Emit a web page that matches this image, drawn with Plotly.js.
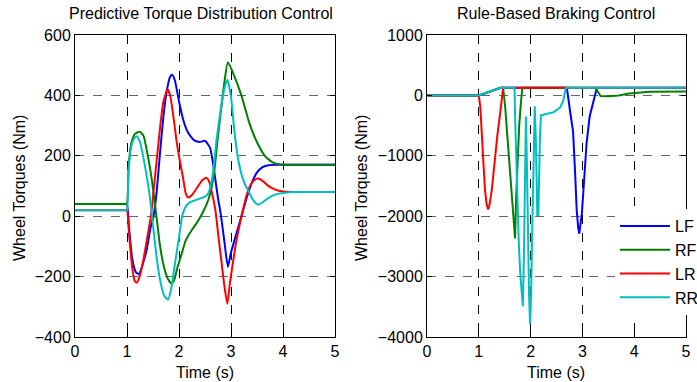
<!DOCTYPE html>
<html><head><meta charset="utf-8">
<script src="https://cdn.plot.ly/plotly-3.0.1.min.js"></script>
<style>html,body{margin:0;padding:0;background:#fff}</style>
</head><body><div id="chart" style="width:697px;height:382px"></div>
<script>
// ---------- Data ----------
const seriesNames = ['LF', 'RF', 'LR', 'RR'];
const seriesColors = ['#0000FF', '#008000', '#FF0000', '#00BFBF'];
const xTicks = [0, 1, 2, 3, 4, 5];
const yTicksLeft = [-400, -200, 0, 200, 400, 600];
const yTicksRight = [-4000, -3000, -2000, -1000, 0, 1000];

// Left panel: Predictive Torque Distribution Control
const tLF_p = [0,0.98,1.0,1.04,1.10,1.17,1.23,1.30,1.38,1.45,1.51,1.57,1.63,1.70,1.77,1.83,1.87,1.92,2.0,2.08,2.15,2.22,2.30,2.40,2.50,2.55,2.60,2.65,2.70,2.75,2.80,2.87,2.94,3.0,3.1,3.2,3.3,3.4,3.5,3.6,3.7,3.85,4.2,5.0];
const LF_p  = [40,40,40,-40,-140,-185,-192,-160,-110,-40,0,80,200,330,420,462,468,450,380,320,285,265,250,246,250,240,225,180,120,60,10,-80,-168,-120,-60,0,60,110,145,162,168,170,170,170];

const tRF_p = [0,0.98,1.0,1.03,1.08,1.15,1.25,1.32,1.40,1.47,1.53,1.58,1.63,1.70,1.78,1.85,1.90,1.97,2.05,2.13,2.25,2.35,2.45,2.56,2.62,2.68,2.74,2.80,2.87,2.94,3.04,3.2,3.35,3.5,3.65,3.8,3.95,4.2,5.0];
const RF_p  = [40,40,40,160,240,272,280,265,200,130,50,-20,-92,-160,-205,-222,-215,-170,-125,-80,-45,-20,10,52,90,150,250,340,440,510,474,400,310,245,200,178,171,170,170];

const tLR_p = [0,0.98,1.0,1.04,1.10,1.15,1.19,1.25,1.32,1.40,1.46,1.52,1.58,1.64,1.70,1.78,1.83,1.90,1.96,2.02,2.08,2.13,2.18,2.25,2.35,2.45,2.53,2.58,2.63,2.70,2.76,2.83,2.88,2.93,2.98,3.04,3.10,3.17,3.23,3.30,3.38,3.45,3.52,3.6,3.7,3.8,3.9,4.05,4.3,5.0];
const LR_p  = [20,20,20,-60,-170,-215,-220,-195,-140,-60,0,100,200,300,380,420,400,320,240,180,125,75,62,70,95,120,127,115,80,20,-70,-170,-240,-290,-220,-150,-85,-25,20,70,105,120,125,118,103,92,85,81,80,80];

const tRR_p = [0,0.98,1.0,1.03,1.08,1.14,1.19,1.25,1.32,1.39,1.44,1.50,1.57,1.64,1.72,1.79,1.85,1.92,2.0,2.06,2.12,2.2,2.3,2.4,2.5,2.56,2.62,2.66,2.72,2.8,2.87,2.93,3.0,3.06,3.13,3.2,3.27,3.33,3.42,3.52,3.6,3.7,3.8,3.9,4.05,4.2,4.5,5.0];
const RR_p  = [20,20,20,150,230,258,265,245,190,120,63,-30,-137,-215,-265,-276,-240,-160,-70,0,29,45,52,58,65,74,110,152,250,350,420,452,396,290,196,140,105,85,55,38,45,58,68,74,78,80,80,80];

// Right panel: Rule-Based Braking Control
const tLF_r = [0,1.0,1.42,2.70,2.76,2.82,2.86,2.89,2.92,2.94,2.96,2.99,3.02,3.08,3.14,3.21,3.28,5.0];
const LF_r  = [0,0,125,125,-250,-600,-1300,-1900,-2200,-2290,-2150,-1950,-1570,-800,-350,-90,125,125];

const tRF_r = [0,1.0,1.42,1.47,1.51,1.57,1.63,1.68,1.70,1.72,1.75,1.78,1.81,1.84,3.25,3.30,3.35,3.5,3.7,3.9,4.1,4.3,5.0];
const RF_r  = [0,0,125,125,-200,-860,-1515,-2175,-2370,-1700,-950,-500,-150,125,125,50,-10,-15,0,30,50,60,65];

const tLR_r = [0,1.0,1.03,1.06,1.09,1.12,1.15,1.18,1.21,1.25,1.31,1.36,1.41,1.47,5.0];
const LR_r  = [0,0,-200,-580,-1130,-1570,-1800,-1890,-1800,-1570,-1020,-650,-310,125,125];

const tRR_r = [0,1.0,1.42,1.69,1.70,1.72,1.74,1.77,1.80,1.83,1.85,1.87,1.89,1.91,1.93,1.95,1.97,1.99,2.01,2.03,2.05,2.07,2.08,2.10,2.12,2.13,2.15,2.16,2.18,2.20,2.31,2.44,2.57,2.63,2.68,5.0];
const RR_r  = [0,0,125,125,-330,-900,-1735,-2400,-2940,-3300,-3490,-2700,-1600,-350,-1200,-2400,-3300,-3790,-3300,-2300,-1200,-400,-180,-700,-1500,-1980,-1980,-1300,-700,-330,-310,-280,-200,-90,125,125];

// ---------- Traces ----------
const leftT = [tLF_p, tRF_p, tLR_p, tRR_p];
const leftV = [LF_p, RF_p, LR_p, RR_p];
const rightT = [tLF_r, tRF_r, tLR_r, tRR_r];
const rightV = [LF_r, RF_r, LR_r, RR_r];

const traces = [];
for (let i = 0; i < 4; i++) {
  traces.push({x: leftT[i], y: leftV[i], type: 'scatter', mode: 'lines', name: seriesNames[i],
    line: {color: seriesColors[i], width: 2, shape: 'spline', smoothing: 0.5}, xaxis: 'x', yaxis: 'y', showlegend: false});
}
for (let i = 0; i < 4; i++) {
  traces.push({x: rightT[i], y: rightV[i], type: 'scatter', mode: 'lines', name: seriesNames[i],
    line: {color: seriesColors[i], width: 2}, xaxis: 'x2', yaxis: 'y2', showlegend: true});
}

const FONT = 'Liberation Sans, Arial, Helvetica, sans-serif';
const W = 697, H = 382;
const common = {
  showline: true, linecolor: '#000', linewidth: 1, mirror: 'ticks',
  ticks: 'inside', ticklen: 5, tickcolor: '#000', tickwidth: 1,
  showgrid: true, griddash: 'dash', gridwidth: 1, zeroline: false,
  tickfont: {family: FONT, size: 16, color: '#000'}
};
const yDom = [1 - 337 / H, 1 - 35 / H];

const layout = {
  width: W, height: H,
  margin: {l: 0, r: 0, t: 0, b: 0, autoexpand: false},
  paper_bgcolor: '#fff', plot_bgcolor: '#fff',
  font: {family: FONT, size: 16, color: '#000'},
  xaxis: Object.assign({}, common, {domain: [75 / W, 335 / W], range: [0, 5], tickvals: xTicks, gridcolor: '#000', anchor: 'y'}),
  yaxis: Object.assign({}, common, {domain: yDom, range: [-400, 600], tickvals: yTicksLeft, gridcolor: '#666', anchor: 'x'}),
  xaxis2: Object.assign({}, common, {domain: [427 / W, 686 / W], range: [0, 5], tickvals: xTicks, gridcolor: '#000', anchor: 'y2'}),
  yaxis2: Object.assign({}, common, {domain: yDom, range: [-4000, 1000], tickvals: yTicksRight, gridcolor: '#666', anchor: 'x2'}),
  showlegend: true,
  legend: {x: 615 / W, y: 1 - 209 / H, xanchor: 'left', yanchor: 'top', bgcolor: '#fff', borderwidth: 0,
           font: {family: FONT, size: 16, color: '#000'}, itemwidth: 50},
  annotations: [
    {text: 'Predictive Torque Distribution Control', x: 201 / W, y: 1 - 13 / H, xref: 'paper', yref: 'paper', showarrow: false, xanchor: 'center', yanchor: 'middle', font: {family: FONT, size: 16}},
    {text: 'Rule-Based Braking Control', x: 556 / W, y: 1 - 13 / H, xref: 'paper', yref: 'paper', showarrow: false, xanchor: 'center', yanchor: 'middle', font: {family: FONT, size: 16}},
    {text: 'Time (s)', x: 205 / W, y: 1 - 372 / H, xref: 'paper', yref: 'paper', showarrow: false, xanchor: 'center', yanchor: 'middle', font: {family: FONT, size: 16}},
    {text: 'Time (s)', x: 556 / W, y: 1 - 372 / H, xref: 'paper', yref: 'paper', showarrow: false, xanchor: 'center', yanchor: 'middle', font: {family: FONT, size: 16}},
    {text: 'Wheel Torques (Nm)', x: 19 / W, y: 1 - 188 / H, xref: 'paper', yref: 'paper', showarrow: false, xanchor: 'center', yanchor: 'middle', textangle: -90, font: {family: FONT, size: 16}},
    {text: 'Wheel Torques (Nm)', x: 361 / W, y: 1 - 188 / H, xref: 'paper', yref: 'paper', showarrow: false, xanchor: 'center', yanchor: 'middle', textangle: -90, font: {family: FONT, size: 16}}
  ]
};

Plotly.newPlot('chart', traces, layout, {staticPlot: true, displayModeBar: false});
</script></body></html>
